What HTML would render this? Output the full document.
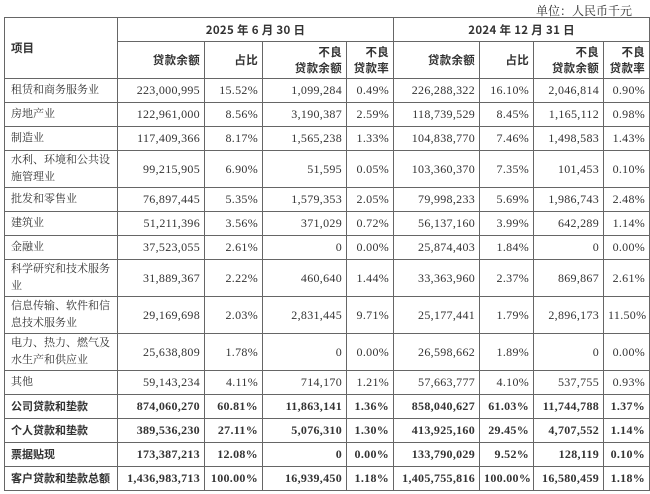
<!DOCTYPE html>
<html><head><meta charset="utf-8"><style>
html,body{margin:0;padding:0;background:#fff;width:650px;height:494px;overflow:hidden}
body{font-family:"Liberation Serif","Noto Serif CJK SC",serif;color:#333;font-size:12px}
.unit{position:absolute;left:536px;top:2px;font-size:12px}
table{position:absolute;left:4px;top:17px;border-collapse:collapse;table-layout:fixed;width:645px}
td{border:1px solid #666;padding:0 4px;height:23px;text-align:right;white-space:nowrap;overflow:hidden;line-height:17px;letter-spacing:0.3px}
td.l{text-align:left;white-space:normal;letter-spacing:0;font-size:11px;padding:0 3px 0 6px}
tr.d td{height:36px}
tr.b td{font-weight:bold}
tr.b td.l{font-family:"Noto Sans CJK SC",sans-serif;font-size:11px;white-space:nowrap;padding:0 2px 0 6px}
.h td{font-family:"Noto Sans CJK SC",sans-serif;font-weight:bold;font-size:11.5px;color:#333;line-height:16px}
.c{text-align:center!important}
</style></head><body>
<div class="unit">单位：人民币千元</div>
<table>
<colgroup><col style="width:113px"><col style="width:87px"><col style="width:58px"><col style="width:84px"><col style="width:47px"><col style="width:86px"><col style="width:54px"><col style="width:70px"><col style="width:46px"></colgroup>
<tr class="h"><td class="l" rowspan="2" style="vertical-align:middle;font-size:11.5px">项目</td><td colspan="4" class="c">2025 年 6 月 30 日</td><td colspan="4" class="c">2024 年 12 月 31 日</td></tr>
<tr class="h" style="height:37px"><td>贷款余额</td><td>占比</td><td>不良<br>贷款余额</td><td>不良<br>贷款率</td><td>贷款余额</td><td>占比</td><td>不良<br>贷款余额</td><td>不良<br>贷款率</td></tr>
<tr><td class="l">租赁和商务服务业</td><td>223,000,995</td><td>15.52%</td><td>1,099,284</td><td>0.49%</td><td>226,288,322</td><td>16.10%</td><td>2,046,814</td><td>0.90%</td></tr>
<tr><td class="l">房地产业</td><td>122,961,000</td><td>8.56%</td><td>3,190,387</td><td>2.59%</td><td>118,739,529</td><td>8.45%</td><td>1,165,112</td><td>0.98%</td></tr>
<tr><td class="l">制造业</td><td>117,409,366</td><td>8.17%</td><td>1,565,238</td><td>1.33%</td><td>104,838,770</td><td>7.46%</td><td>1,498,583</td><td>1.43%</td></tr>
<tr class="d"><td class="l">水利、环境和公共设<br>施管理业</td><td>99,215,905</td><td>6.90%</td><td>51,595</td><td>0.05%</td><td>103,360,370</td><td>7.35%</td><td>101,453</td><td>0.10%</td></tr>
<tr><td class="l">批发和零售业</td><td>76,897,445</td><td>5.35%</td><td>1,579,353</td><td>2.05%</td><td>79,998,233</td><td>5.69%</td><td>1,986,743</td><td>2.48%</td></tr>
<tr><td class="l">建筑业</td><td>51,211,396</td><td>3.56%</td><td>371,029</td><td>0.72%</td><td>56,137,160</td><td>3.99%</td><td>642,289</td><td>1.14%</td></tr>
<tr><td class="l">金融业</td><td>37,523,055</td><td>2.61%</td><td>0</td><td>0.00%</td><td>25,874,403</td><td>1.84%</td><td>0</td><td>0.00%</td></tr>
<tr class="d"><td class="l">科学研究和技术服务<br>业</td><td>31,889,367</td><td>2.22%</td><td>460,640</td><td>1.44%</td><td>33,363,960</td><td>2.37%</td><td>869,867</td><td>2.61%</td></tr>
<tr class="d"><td class="l">信息传输、软件和信<br>息技术服务业</td><td>29,169,698</td><td>2.03%</td><td>2,831,445</td><td>9.71%</td><td>25,177,441</td><td>1.79%</td><td>2,896,173</td><td>11.50%</td></tr>
<tr class="d"><td class="l">电力、热力、燃气及<br>水生产和供应业</td><td>25,638,809</td><td>1.78%</td><td>0</td><td>0.00%</td><td>26,598,662</td><td>1.89%</td><td>0</td><td>0.00%</td></tr>
<tr><td class="l">其他</td><td>59,143,234</td><td>4.11%</td><td>714,170</td><td>1.21%</td><td>57,663,777</td><td>4.10%</td><td>537,755</td><td>0.93%</td></tr>
<tr class="b"><td class="l">公司贷款和垫款</td><td>874,060,270</td><td>60.81%</td><td>11,863,141</td><td>1.36%</td><td>858,040,627</td><td>61.03%</td><td>11,744,788</td><td>1.37%</td></tr>
<tr class="b"><td class="l">个人贷款和垫款</td><td>389,536,230</td><td>27.11%</td><td>5,076,310</td><td>1.30%</td><td>413,925,160</td><td>29.45%</td><td>4,707,552</td><td>1.14%</td></tr>
<tr class="b"><td class="l">票据贴现</td><td>173,387,213</td><td>12.08%</td><td>0</td><td>0.00%</td><td>133,790,029</td><td>9.52%</td><td>128,119</td><td>0.10%</td></tr>
<tr class="b"><td class="l">客户贷款和垫款总额</td><td>1,436,983,713</td><td>100.00%</td><td>16,939,450</td><td>1.18%</td><td>1,405,755,816</td><td>100.00%</td><td>16,580,459</td><td>1.18%</td></tr>
</table>
</body></html>
